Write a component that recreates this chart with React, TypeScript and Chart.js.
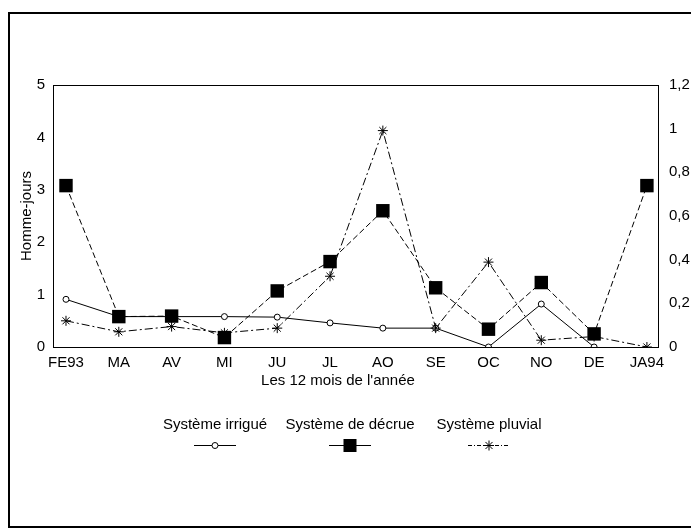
import React, { useEffect, useRef } from 'react';
import { Chart, registerables } from 'chart.js';

Chart.register(...registerables);

const months = ['FE93', 'MA', 'AV', 'MI', 'JU', 'JL', 'AO', 'SE', 'OC', 'NO', 'DE', 'JA94'];
const irrigue: (number | null)[] = [0.91, 0.58, 0.58, 0.58, 0.57, 0.46, 0.36, 0.36, 0, 0.82, 0, null];
const decrue: (number | null)[] = [3.08, 0.58, 0.59, 0.18, 1.07, 1.63, 2.6, 1.13, 0.34, 1.23, 0.25, 3.08];
const pluvial: (number | null)[] = [0.5, 0.29, 0.39, 0.27, 0.36, 1.35, 4.13, 0.36, 1.62, 0.13, 0.2, 0];
const leftTicks = [0, 1, 2, 3, 4, 5];
const rightTicks = [0, 0.2, 0.4, 0.6, 0.8, 1, 1.2];
const seriesNames = ['Système irrigué', 'Système de décrue', 'Système pluvial'];
const yTitle = 'Homme-jours';
const xTitle = "Les 12 mois de l'année";

const FONT = "'Liberation Sans', Arial, sans-serif";
const FS = 15;
const W = 691;
const H = 521;

const toPoints = (arr: (number | null)[]) => arr.map((v, i) => ({ x: i, y: v }));

function drawMarker(ctx: CanvasRenderingContext2D, style: string, x: number, y: number) {
  ctx.save();
  ctx.strokeStyle = '#000';
  ctx.fillStyle = '#000';
  ctx.lineWidth = 1;
  ctx.setLineDash([]);
  if (style === 'circle') {
    ctx.beginPath();
    ctx.arc(x, y, 3, 0, Math.PI * 2);
    ctx.fillStyle = '#fff';
    ctx.fill();
    ctx.stroke();
  } else if (style === 'rect') {
    ctx.fillRect(x - 6.5, y - 6.5, 13, 13);
  } else {
    const r = 5;
    ctx.beginPath();
    ctx.moveTo(x - r, y); ctx.lineTo(x + r, y);
    ctx.moveTo(x, y - r); ctx.lineTo(x, y + r);
    const d = r * Math.SQRT1_2;
    ctx.moveTo(x - d, y - d); ctx.lineTo(x + d, y + d);
    ctx.moveTo(x - d, y + d); ctx.lineTo(x + d, y - d);
    ctx.stroke();
  }
  ctx.restore();
}

const decorPlugin = {
  id: 'decor',
  beforeDraw(chart: any) {
    const ctx = chart.ctx;
    ctx.save();
    ctx.fillStyle = '#fff';
    ctx.fillRect(0, 0, chart.width, chart.height);
    ctx.restore();
  },
  beforeDatasetsDraw(chart: any) {
    const ctx = chart.ctx;
    const a = chart.chartArea;
    ctx.save();
    ctx.strokeStyle = '#000';
    ctx.lineWidth = 2;
    ctx.strokeRect(1, 5, 688, 514);
    ctx.lineWidth = 1;
    ctx.strokeRect(Math.round(a.left) + 0.5, Math.round(a.top) + 0.5, Math.round(a.right - a.left), Math.round(a.bottom - a.top));
    ctx.fillStyle = '#000';
    ctx.font = `${FS}px ${FONT}`;
    ctx.textAlign = 'center';
    ctx.textBaseline = 'middle';
    ctx.fillText(xTitle, 330, 373);
    ctx.restore();
  },
  afterDraw(chart: any) {
    const ctx = chart.ctx;
    const centers = [207, 342, 481];
    const styles = ['circle', 'rect', 'star'];
    const dashes = [[], [], [4, 2, 1, 2]];
    ctx.save();
    ctx.fillStyle = '#000';
    ctx.font = `${FS}px ${FONT}`;
    ctx.textAlign = 'center';
    ctx.textBaseline = 'middle';
    seriesNames.forEach((name, i) => {
      const cx = centers[i];
      ctx.fillText(name, cx, 417);
      ctx.save();
      ctx.strokeStyle = '#000';
      ctx.lineWidth = 1;
      ctx.setLineDash(dashes[i]);
      ctx.beginPath();
      ctx.moveTo(cx - 21, 437.5);
      ctx.lineTo(cx + 21, 437.5);
      ctx.stroke();
      ctx.restore();
      drawMarker(ctx, styles[i], cx, 437.5);
    });
    ctx.restore();
  },
};

export default function App() {
  const ref = useRef<HTMLCanvasElement>(null);

  useEffect(() => {
    if (!ref.current) return;
    const chart = new Chart(ref.current, {
      type: 'line',
      data: {
        datasets: [
          {
            label: seriesNames[0],
            data: toPoints(irrigue),
            borderColor: '#000',
            borderWidth: 1,
            pointStyle: 'circle',
            pointRadius: 3,
            pointBackgroundColor: '#fff',
            pointBorderColor: '#000',
            pointBorderWidth: 1,
            order: 2,
          },
          {
            label: seriesNames[1],
            data: toPoints(decrue),
            borderColor: '#000',
            borderWidth: 1,
            borderDash: [6, 3],
            pointStyle: 'rect',
            pointRadius: 9.5,
            pointBackgroundColor: '#000',
            pointBorderColor: '#000',
            pointBorderWidth: 0,
            order: 0,
          },
          {
            label: seriesNames[2],
            data: toPoints(pluvial),
            borderColor: '#000',
            borderWidth: 1,
            borderDash: [8, 3, 2, 3],
            pointStyle: 'star',
            pointRadius: 5,
            pointBackgroundColor: '#000',
            pointBorderColor: '#000',
            pointBorderWidth: 1,
            order: 1,
          },
        ] as any,
      },
      options: {
        responsive: false,
        animation: false,
        events: [],
        layout: { padding: { top: 77, left: 0, right: 0, bottom: 0 } },
        plugins: { legend: { display: false }, tooltip: { enabled: false } },
        scales: {
          x: {
            type: 'linear',
            min: -0.246,
            max: 11.21,
            grid: { display: false, drawTicks: false },
            border: { display: false },
            afterBuildTicks: (s: any) => {
              s.ticks = months.map((_, i) => ({ value: i }));
            },
            afterFit: (s: any) => {
              s.height = H - 339;
              s.paddingLeft = 0;
              s.paddingRight = 0;
            },
            ticks: {
              autoSkip: false,
              maxRotation: 0,
              padding: 7,
              color: '#000',
              font: { family: FONT, size: FS },
              callback: (v: any) => months[Math.round(Number(v))] ?? '',
            },
          },
          y: {
            type: 'linear',
            position: 'left',
            min: 0,
            max: 5,
            grid: { display: false, drawTicks: false },
            border: { display: false },
            afterBuildTicks: (s: any) => {
              s.ticks = leftTicks.map((v) => ({ value: v }));
            },
            afterFit: (s: any) => {
              s.width = 45;
              s.paddingTop = 0;
              s.paddingBottom = 0;
            },
            title: {
              display: true,
              text: yTitle,
              color: '#000',
              font: { family: FONT, size: FS },
              padding: { top: 10, bottom: 0 },
            },
            ticks: {
              padding: 8,
              color: '#000',
              font: { family: FONT, size: FS },
              callback: (v: any) => String(v),
            },
          },
          y1: {
            type: 'linear',
            position: 'right',
            min: 0,
            max: 1.2,
            grid: { display: false, drawTicks: false },
            border: { display: false },
            afterBuildTicks: (s: any) => {
              s.ticks = rightTicks.map((v) => ({ value: v }));
            },
            afterFit: (s: any) => {
              s.width = W - 650;
              s.paddingTop = 0;
              s.paddingBottom = 0;
            },
            ticks: {
              padding: 11,
              color: '#000',
              font: { family: FONT, size: FS },
              callback: (v: any) => String(Math.round(Number(v) * 10) / 10).replace('.', ','),
            },
          },
        },
      } as any,
      plugins: [decorPlugin],
    });
    return () => chart.destroy();
  }, []);

  return (
    <div style={{ width: W, height: H }}>
      <canvas ref={ref} width={W} height={H} style={{ display: 'block', width: W, height: H }} />
    </div>
  );
}
